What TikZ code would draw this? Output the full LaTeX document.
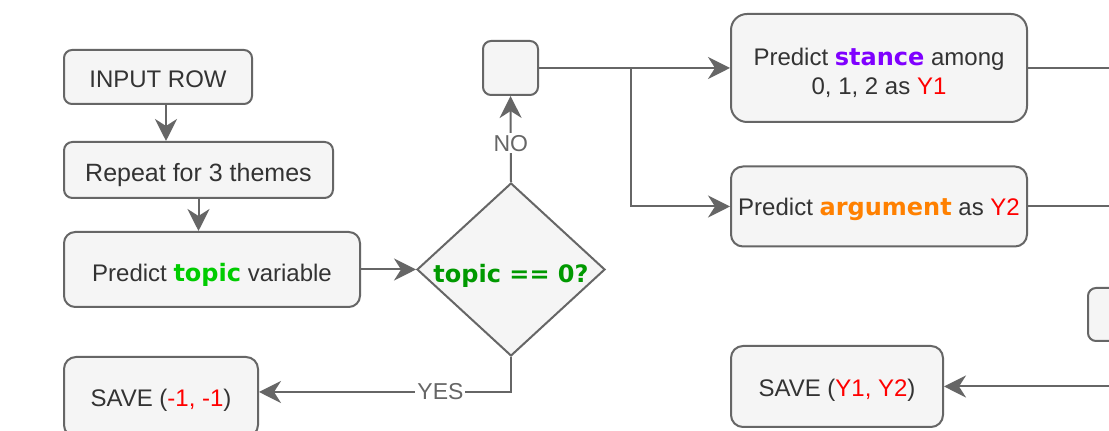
\documentclass[tikz,border=0pt]{standalone}
\usepackage{fontspec}
\setmainfont{Liberation Sans}
\newfontfamily\dvs{DejaVu Sans}
\usetikzlibrary{arrows.meta,shapes.geometric}
\definecolor{lc}{HTML}{666666}
\definecolor{bf}{HTML}{F5F5F5}
\definecolor{tc}{HTML}{333333}
\definecolor{gone}{HTML}{00CC00}
\definecolor{gtwo}{HTML}{009900}
\definecolor{pu}{HTML}{7F00FF}
\definecolor{orng}{HTML}{FF8000}
\definecolor{rd}{HTML}{FF0000}
\newcommand{\bw}[2]{{\dvs\bfseries\color{#1}#2}}
\begin{document}
\begin{tikzpicture}[x=0.5pt,y=-0.5pt,
  box/.style={draw=lc, line width=1pt, fill=bf, text=tc, inner sep=0pt, align=center,
              font=\fontsize{12}{14.5}\selectfont, text depth=0pt},
  dia/.style={draw=lc, line width=1pt, fill=bf, shape=diamond, inner sep=0pt,
              minimum width=94pt, minimum height=86.5pt},
  arr/.style={draw=lc, line width=1pt, -{Stealth[length=11pt,width=11pt,inset=3.5pt]}},
  ln/.style={draw=lc, line width=1pt},
  lab/.style={fill=white, text=lc, inner sep=1pt, font=\fontsize{11.5}{13}\selectfont}]
\useasboundingbox (0,0) rectangle (1109,431);
\clip (0,0) rectangle (1109,431);
\fill[white] (0,0) rectangle (1109,431);

\node[box, text height=10.3pt, rounded corners=4pt, minimum width=94pt, minimum height=27pt] (in) at (158,77) {INPUT ROW};
\node[box, font=\fontsize{12.5}{15}\selectfont, text height=11.45pt, rounded corners=4.2pt, minimum width=134.5pt, minimum height=28pt] (rep) at (198.5,170) {Repeat for 3 themes};
\node[box, text height=11.6pt, rounded corners=5.6pt, minimum width=148pt, minimum height=37.5pt] (pt) at (212,269.5) {Predict \bw{gone}{topic} variable};
\node[dia] (d) at (511,269.5) {};
\node[font=\dvs\bfseries\fontsize{12}{14}\selectfont, text=gtwo, inner sep=0pt, text height=12.7pt, text depth=0pt] (dt) at (d.center) {topic == 0?};
\node[box, rounded corners=4pt, minimum width=27.5pt, minimum height=27pt] (sb) at (510.5,68) {};
\node[box, rounded corners=8pt, minimum width=148pt, minimum height=54pt] (st) at (879,68) {};
\node[text=tc, inner sep=0pt, align=center, font=\fontsize{12}{14.5}\selectfont] (stt) at ([yshift=-2.2pt]st.center) {Predict \bw{pu}{stance} among\\0, 1, 2 as {\color{rd}Y1}};
\node[box, text height=9.3pt, rounded corners=6pt, minimum width=148pt, minimum height=40pt] (ag) at (879,206.5) {Predict \bw{orng}{argument} as {\color{rd}Y2}};
\node[box, rounded corners=4pt, minimum width=56pt, minimum height=26.5pt] (pb) at (1144,314.5) {};
\node[box, text height=9.6pt, rounded corners=6pt, minimum width=106pt, minimum height=40.5pt] (s2) at (837,386.5) {SAVE ({\color{rd}Y1, Y2})};
\node[box, text height=9.6pt, rounded corners=6pt, minimum width=97pt, minimum height=40pt] (s1) at (161,397) {SAVE ({\color{rd}-1, -1})};

\coordinate (br) at (631,68);
\coordinate (r1) at (1140,68);
\coordinate (r2) at (1140,206.5);
\coordinate (r3) at (1140,386.5);

\draw[arr] ([xshift=4pt]in.south) -- ([xshift=4pt]in.south |- rep.north);
\draw[arr] (rep.south) -- (rep.south |- pt.north);
\draw[arr] (pt.east) -- (d.west);
\draw[arr] (d.north) -- node[lab, pos=0.45] {NO} (sb.south);
\draw[arr] (sb.east) -- (st.west);
\draw[arr] (br) |- (ag.west);
\draw[ln] (st.east) -- (r1);
\draw[ln] (ag.east) -- (r2);
\draw[arr] (r3) -- (s2.east);
\draw[arr] (d.south) |- node[lab, pos=0.64] {YES} ([yshift=2.5pt]s1.east);
\end{tikzpicture}
\end{document}
